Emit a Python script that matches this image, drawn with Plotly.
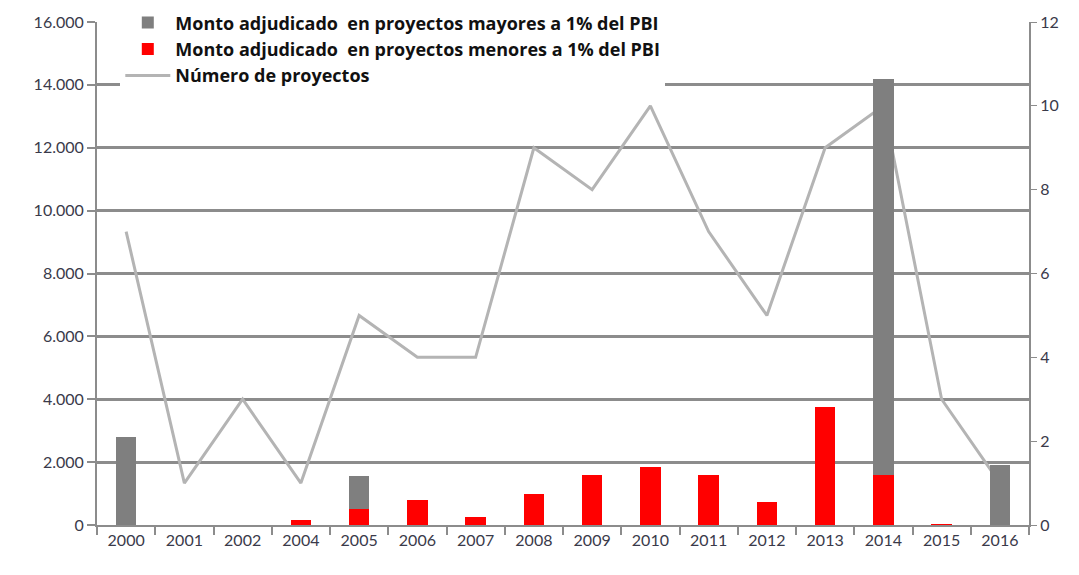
import plotly.graph_objects as go

# datos
anios = ["2000", "2001", "2002", "2004", "2005", "2006", "2007", "2008",
         "2009", "2010", "2011", "2012", "2013", "2014", "2015", "2016"]
monto_mayores = [2800, 0, 0, 0, 1050, 0, 0, 0, 0, 0, 0, 0, 0, 12600, 0, 1900]
monto_menores = [0, 0, 0, 150, 520, 800, 260, 1000, 1600, 1850, 1580, 720, 3750, 1600, 12, 0]
num_proyectos = [7, 1, 3, 1, 5, 4, 4, 9, 8, 10, 7, 5, 9, 10, 3, 1]

gris = "#7f7f7f"
rojo = "#ff0000"

fig = go.Figure()

# la linea va en el eje base para quedar detras de las barras
fig.add_trace(go.Scatter(
    x=anios, y=num_proyectos, mode="lines", name="Número de proyectos",
    line=dict(color="#b4b4b4", width=3), yaxis="y", legendrank=3,
))
fig.add_trace(go.Bar(
    x=anios, y=monto_menores, name="Monto adjudicado  en proyectos menores a 1% del PBI",
    marker=dict(color=rojo, line=dict(width=0)), yaxis="y2", legendrank=2,
))
fig.add_trace(go.Bar(
    x=anios, y=monto_mayores, name="Monto adjudicado  en proyectos mayores a 1% del PBI",
    marker=dict(color=gris, line=dict(width=0)), yaxis="y2", legendrank=1,
))

eje_color = "#8c8c8c"
# la pagina tiene 8px de margen en el body, por eso 1071x567
fig.update_layout(
    width=1071, height=567,
    margin=dict(l=89, r=50, t=14, b=50, autoexpand=False),
    paper_bgcolor="white", plot_bgcolor="white",
    font=dict(family="Lato, Liberation Sans, sans-serif", size=16, color="#3a3a4a"),
    separators=",.",
    barmode="stack", bargap=0.65,
    showlegend=True,
    legend=dict(
        x=0.025, y=1.035, xanchor="left", yanchor="top",
        bgcolor="white", itemwidth=45,
        font=dict(family="Open Sans, sans-serif", size=18, color="#111111", weight="bold"),
        traceorder="normal",
    ),
    xaxis=dict(
        type="category", showgrid=False, showline=True, linecolor=eje_color,
        linewidth=2, ticks="outside", tickson="boundaries", ticklen=8,
        tickcolor=eje_color, tickwidth=2,
    ),
    yaxis=dict(
        side="right", range=[0, 12], dtick=2, showgrid=False, zeroline=False,
        showline=True, linecolor=eje_color, linewidth=2, ticks="outside",
        ticklen=6, tickcolor=eje_color,
    ),
    yaxis2=dict(
        overlaying="y", side="left", range=[0, 16000], dtick=2000,
        tickformat=",.0f", showgrid=True, gridcolor=eje_color, gridwidth=3,
        zeroline=False, showline=True, linecolor=eje_color, linewidth=2,
        ticks="outside", ticklen=8, tickcolor=eje_color, tickwidth=2,
    ),
)

fig.write_html("out.html")
